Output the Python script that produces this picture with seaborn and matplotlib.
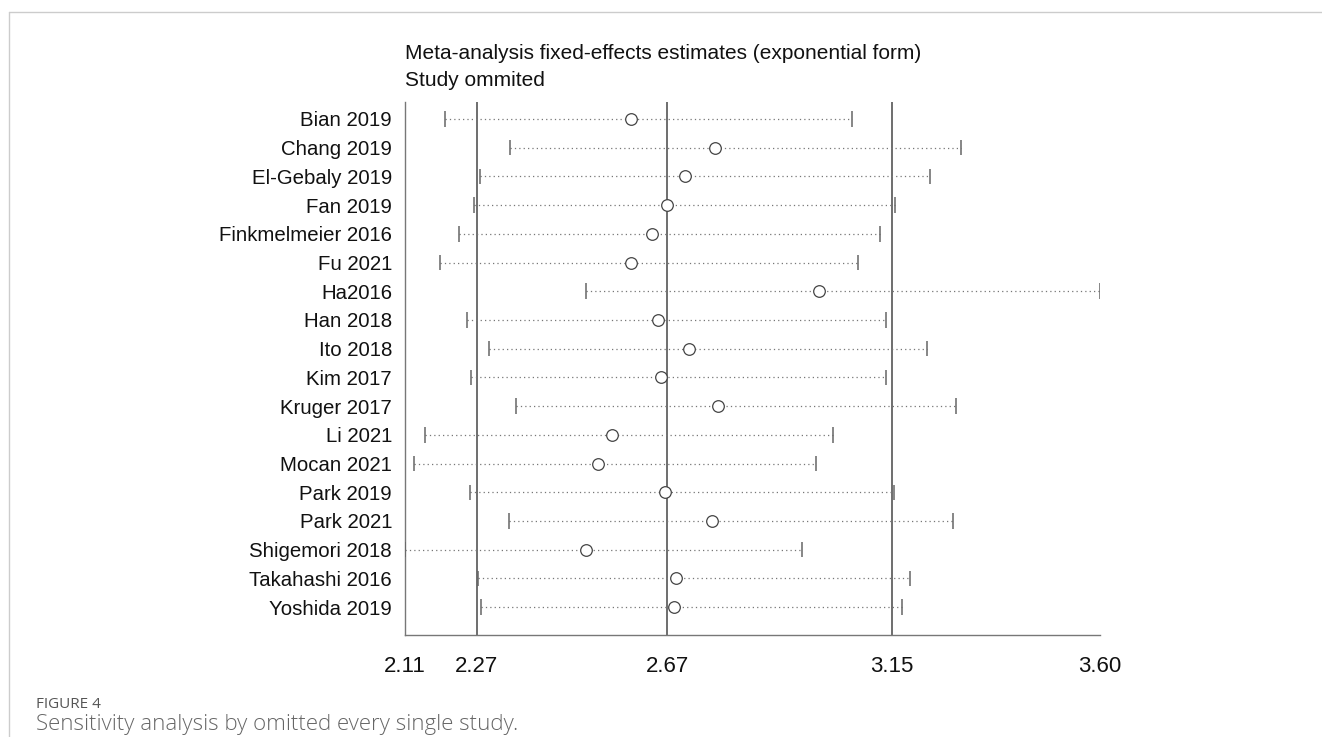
import seaborn as sns
import pandas as pd
import numpy as np
import matplotlib.pyplot as plt
from matplotlib.lines import Line2D

studies = ["Bian 2019", "Chang 2019", "El-Gebaly 2019", "Fan 2019", "Finkmelmeier 2016",
           "Fu 2021", "Ha2016", "Han 2018", "Ito 2018", "Kim 2017", "Kruger 2017",
           "Li 2021", "Mocan 2021", "Park 2019", "Park 2021", "Shigemori 2018",
           "Takahashi 2016", "Yoshida 2019"]
estimate = [2.596, 2.776, 2.711, 2.672, 2.640, 2.596, 2.999, 2.653, 2.719,
            2.660, 2.782, 2.554, 2.524, 2.669, 2.769, 2.500, 2.691, 2.688]
lower = [2.197, 2.336, 2.271, 2.258, 2.227, 2.187, 2.499, 2.243, 2.290,
         2.252, 2.349, 2.154, 2.131, 2.251, 2.335, 2.110, 2.268, 2.273]
upper = [3.069, 3.303, 3.237, 3.162, 3.130, 3.083, 3.600, 3.141, 3.230,
         3.143, 3.293, 3.029, 2.991, 3.159, 3.285, 2.963, 3.194, 3.177]

# pooled estimate with its CI (vertical lines)
pooled = [2.265, 2.673, 3.155]
tick_vals = [2.11, 2.265, 2.673, 3.155, 3.60]
tick_labels = ["2.11", "2.27", "2.67", "3.15", "3.60"]

df = pd.DataFrame({"study": studies, "est": estimate, "lo": lower, "hi": upper})
df["row"] = np.arange(len(df))

sns.set_style("white")
plt.rcParams["font.family"] = ["Liberation Sans", "DejaVu Sans"]

fig = plt.figure(figsize=(13.22, 7.37), dpi=100)
ax = fig.add_axes([0.306, 0.139, 0.5258, 0.723])

grey = "#666666"
ax.vlines(pooled, -0.6, 17.955, color="#555555", lw=1.2, zorder=1)
ax.hlines(df["row"], df["lo"], df["hi"], color="#777777", lw=0.9,
          linestyles=(0, (1, 2.5)), zorder=2)
ax.vlines(df["lo"], df["row"] - 0.27, df["row"] + 0.27, color=grey, lw=1.1, zorder=3)
ax.vlines(df["hi"], df["row"] - 0.27, df["row"] + 0.27, color=grey, lw=1.1, zorder=3)
sns.scatterplot(data=df, x="est", y="row", ax=ax, marker="o", s=70,
                facecolor="white", edgecolor="#444444", linewidth=0.9, zorder=4)

ax.set_xlim(2.11, 3.60)
ax.set_ylim(17.955, -0.6)
ax.set_yticks(df["row"])
ax.set_yticklabels(studies, fontsize=14.7, color="#111111")
ax.tick_params(axis="y", length=0, pad=9)
ax.set_xticks(tick_vals)
ax.set_xticklabels(tick_labels, fontsize=16, color="#111111")
ax.tick_params(axis="x", length=13.5, width=1.0, color=grey, pad=2, direction="out")
ax.set_xlabel("")
ax.set_ylabel("")
for s in ["top", "right"]:
    ax.spines[s].set_visible(False)
for s in ["left", "bottom"]:
    ax.spines[s].set_color("#777777")
    ax.spines[s].set_linewidth(1.0)

fig.text(0.306, 0.928, "Meta-analysis fixed-effects estimates (exponential form)",
         fontsize=15, ha="left", va="center", color="#111111")
fig.text(0.306, 0.891, "Study ommited", fontsize=15, ha="left", va="center",
         color="#111111")

fig.text(36 / 1322, 1 - 708 / 737, "FIGURE 4", fontsize=11, color="#555555",
         family=["Open Sans", "DejaVu Sans"], va="baseline")
fig.text(36 / 1322, 1 - 730 / 737, "Sensitivity analysis by omitted every single study.",
         fontsize=16, color="#666666", family=["Open Sans", "DejaVu Sans"],
         va="baseline", fontweight="light")

# light frame of the figure panel
fig.add_artist(Line2D([9 / 1322, 9 / 1322], [0, 1 - 12 / 737], color="#cccccc", lw=1.0))
fig.add_artist(Line2D([9 / 1322, 1], [1 - 12 / 737, 1 - 12 / 737], color="#cccccc", lw=1.0))

fig.savefig("out.png", dpi=100)
